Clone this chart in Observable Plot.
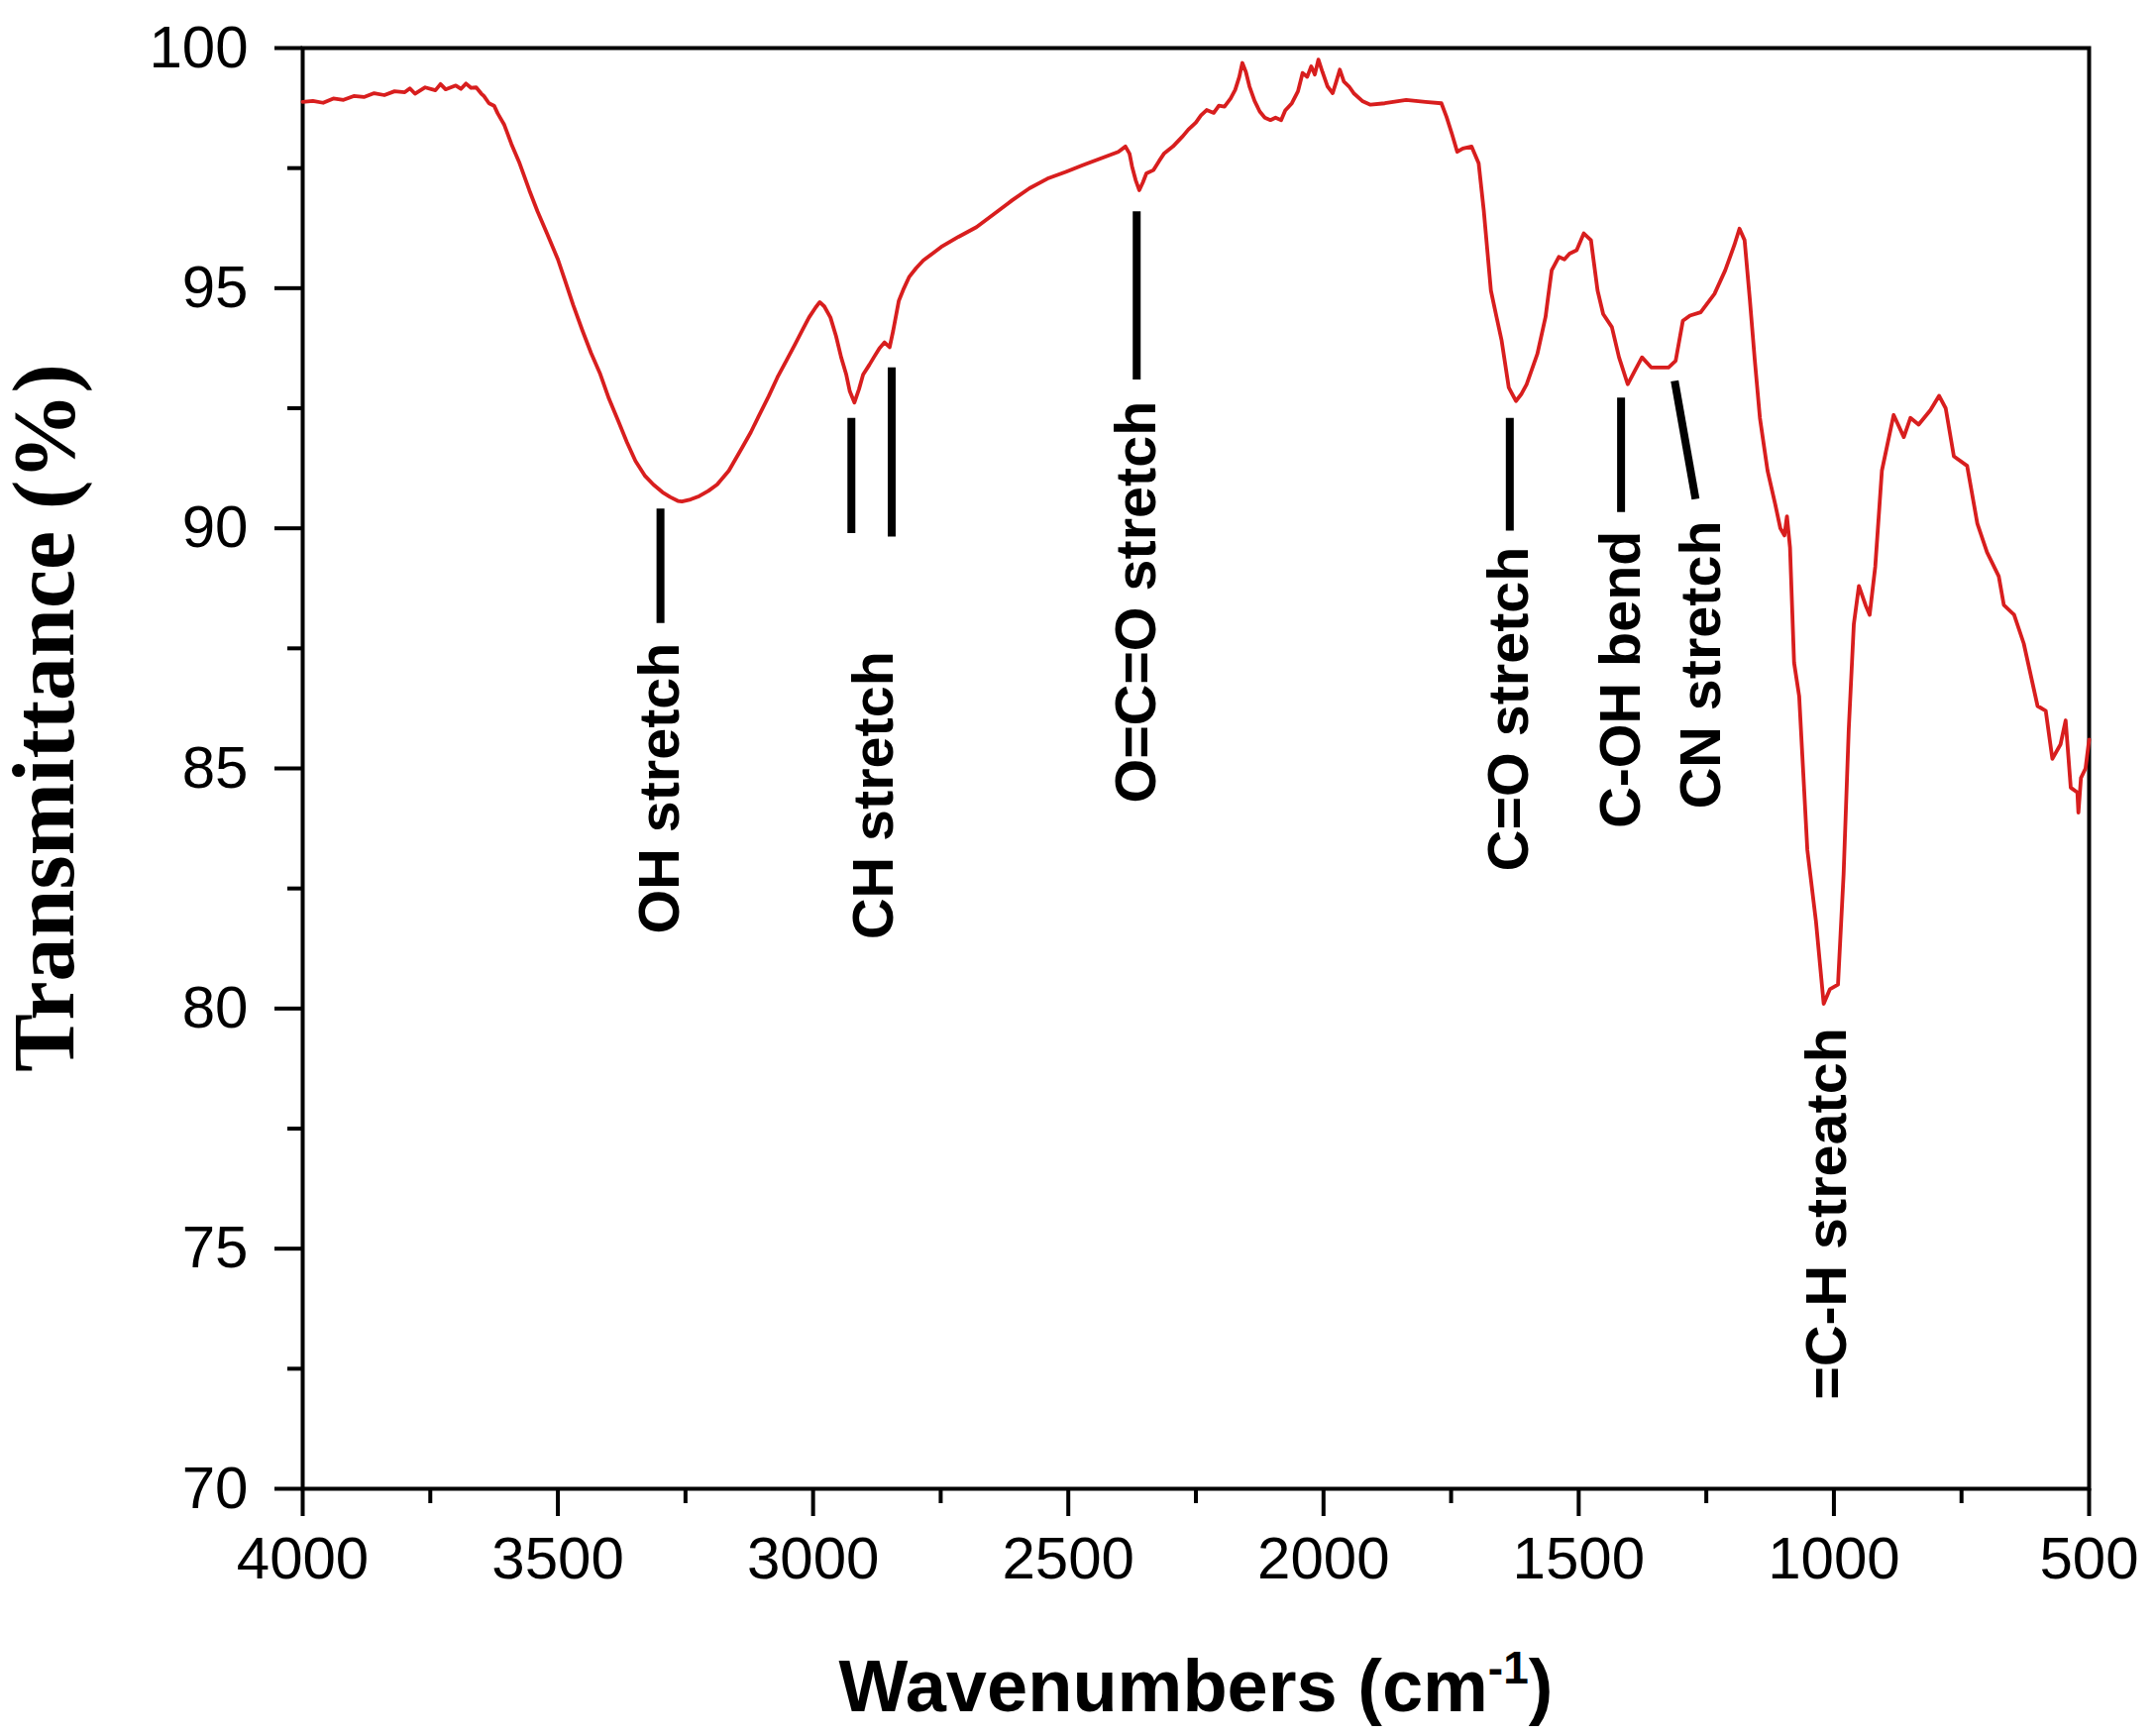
<!DOCTYPE html>
<html>
<head>
<meta charset="utf-8">
<script src="https://cdn.jsdelivr.net/npm/d3@7"></script>
<script src="https://cdn.jsdelivr.net/npm/@observablehq/plot@0.6"></script>
<style>
html, body { margin: 0; padding: 0; background: #fff; }
#chart { width: 2175px; height: 1752px; }
</style>
</head>
<body>
<div id="chart"></div>
<script>
// FTIR spectrum values
const wavenumbers = [
  4000, 3980, 3960, 3940, 3920, 3900, 3880, 3860, 3840, 3820, 3800, 3790, 3780, 3760, 3740, 3730, 3720, 3700, 3690, 3680,
  3670, 3660, 3650, 3645, 3635, 3625, 3618, 3605, 3591, 3575, 3556, 3540, 3521, 3500, 3486, 3470, 3452, 3435, 3417, 3400,
  3382, 3365, 3348, 3330, 3313, 3295, 3280, 3265, 3257, 3240, 3223, 3205, 3188, 3165, 3139, 3122, 3105, 3087, 3070, 3052,
  3035, 3020, 3008, 2995, 2987, 2978, 2966, 2955, 2945, 2935, 2928, 2919, 2910, 2902, 2890, 2881, 2870, 2860, 2850, 2843,
  2832, 2822, 2812, 2798, 2784, 2765, 2749, 2715, 2680, 2645, 2610, 2576, 2541, 2505, 2472, 2437, 2402, 2388, 2380, 2375,
  2368, 2361, 2354, 2347, 2333, 2322, 2312, 2295, 2277, 2265, 2250, 2240, 2229, 2215, 2205, 2194, 2182, 2173, 2165, 2159,
  2152, 2145, 2135, 2125, 2115, 2104, 2094, 2083, 2075, 2062, 2050, 2041, 2032, 2024, 2017, 2010, 2002, 1992, 1982, 1975,
  1968, 1960, 1950, 1940, 1923, 1908, 1880, 1838, 1800, 1769, 1759, 1748, 1738, 1727, 1710, 1696, 1686, 1672, 1661, 1651,
  1637, 1623, 1612, 1602, 1581, 1565, 1560, 1553, 1539, 1528, 1518, 1504, 1490, 1476, 1463, 1452, 1435, 1421, 1404, 1390,
  1376, 1358, 1324, 1310, 1296, 1282, 1261, 1234, 1213, 1195, 1185, 1175, 1165, 1155, 1145, 1130, 1115, 1105, 1097, 1092,
  1086, 1078, 1068, 1052, 1035, 1020, 1008, 992, 981, 971, 961, 951, 938, 930, 919, 906, 883, 863, 850, 834,
  811, 794, 781, 765, 739, 719, 700, 677, 667, 647, 628, 601, 585, 572, 556, 546, 536, 523, 521, 516,
  507, 500
];
const transmittance = [
  98.88, 98.90, 98.86, 98.95, 98.92, 99.00, 98.98, 99.06, 99.02, 99.10, 99.08, 99.16, 99.05, 99.18, 99.12, 99.25, 99.14, 99.22, 99.15, 99.26,
  99.17, 99.18, 99.05, 99.00, 98.85, 98.80, 98.64, 98.40, 98.00, 97.60, 97.04, 96.60, 96.13, 95.60, 95.16, 94.65, 94.12, 93.65, 93.21, 92.70,
  92.24, 91.80, 91.40, 91.10, 90.91, 90.75, 90.65, 90.57, 90.56, 90.60, 90.67, 90.78, 90.91, 91.20, 91.68, 92.00, 92.37, 92.75, 93.14, 93.50,
  93.84, 94.15, 94.39, 94.60, 94.71, 94.62, 94.39, 94.00, 93.56, 93.20, 92.85, 92.62, 92.90, 93.20, 93.40, 93.56, 93.75, 93.87, 93.77, 94.12,
  94.74, 95.00, 95.23, 95.42, 95.58, 95.73, 95.86, 96.07, 96.27, 96.55, 96.83, 97.08, 97.28, 97.42, 97.56, 97.70, 97.84, 97.95, 97.80, 97.53,
  97.25, 97.04, 97.20, 97.39, 97.46, 97.65, 97.81, 97.95, 98.15, 98.30, 98.45, 98.60, 98.71, 98.65, 98.80, 98.78, 98.95, 99.13, 99.40, 99.69,
  99.50, 99.20, 98.90, 98.68, 98.55, 98.50, 98.55, 98.50, 98.70, 98.85, 99.10, 99.48, 99.40, 99.62, 99.45, 99.76, 99.50, 99.20, 99.06, 99.30,
  99.55, 99.30, 99.20, 99.05, 98.89, 98.82, 98.85, 98.92, 98.88, 98.85, 98.57, 98.20, 97.84, 97.91, 97.95, 97.60, 96.62, 94.95, 94.40, 93.91,
  92.93, 92.65, 92.80, 93.00, 93.63, 94.40, 94.81, 95.37, 95.65, 95.60, 95.72, 95.79, 96.14, 96.00, 94.95, 94.46, 94.19, 93.56, 93.00, 93.28,
  93.56, 93.35, 93.35, 93.49, 94.32, 94.43, 94.50, 94.88, 95.37, 95.90, 96.24, 96.00, 94.80, 93.50, 92.30, 91.20, 90.50, 90.00, 89.85, 90.25,
  89.60, 87.20, 86.50, 83.30, 81.80, 80.10, 80.40, 80.50, 82.80, 85.80, 88.00, 88.80, 88.40, 88.20, 89.20, 91.20, 92.36, 91.90, 92.30, 92.16,
  92.46, 92.76, 92.50, 91.50, 91.30, 90.10, 89.50, 89.00, 88.40, 88.20, 87.60, 86.30, 86.20, 85.20, 85.50, 86.00, 84.60, 84.50, 84.08, 84.80,
  85.00, 85.60
];

// Axis ticks
const xTicks = [4000, 3500, 3000, 2500, 2000, 1500, 1000, 500];
const xMinorTicks = [3750, 3250, 2750, 2250, 1750, 1250, 750];
const yTicks = [70, 75, 80, 85, 90, 95, 100];
const yMinorTicks = [72.5, 77.5, 82.5, 87.5, 92.5, 97.5];

// Peak marker lines (wavenumber, transmittance of each end)
const markerWn1 = [3299, 2925, 2846, 2366, 1635, 1417, 1312];
const markerT1 = [90.41, 92.3, 93.35, 96.6, 92.3, 92.72, 93.07];
const markerWn2 = [3299, 2925, 2846, 2366, 1635, 1417, 1271];
const markerT2 = [88.03, 89.9, 89.83, 93.1, 89.95, 90.34, 90.61];

// Peak labels (rotated, read bottom to top; top end position)
const labelText = ["OH stretch", "CH stretch", "O=C=O stretch", "C=O stretch", "C-OH bend", "CN stretch", "=C-H streatch"];
const labelWn = [3299, 2880, 2366, 1635, 1417, 1258, 1012];
const labelTop = [87.62, 87.44, 92.65, 89.62, 89.95, 90.16, 79.6];

const xTitleMain = "Wavenumbers (cm";
const xTitleSup = "-1";
const xTitleEnd = ")";
const yTitle = "Transmittance (%)";

const spectrum = wavenumbers.map((w, i) => ({w, t: transmittance[i]}));
const markers = markerWn1.map((w, i) => ({x1: w, y1: markerT1[i], x2: markerWn2[i], y2: markerT2[i]}));
const labels = labelText.map((s, i) => ({s, w: labelWn[i], t: labelTop[i]}));
const xTitle = xTitleMain + xTitleSup + xTitleEnd;

const sans = "'Liberation Sans', Arial, Helvetica, sans-serif";
const serif = "'Liberation Serif', 'Times New Roman', serif";

const chart = Plot.plot({
  width: 2175,
  height: 1752,
  marginTop: 48,
  marginRight: 67,
  marginBottom: 250,
  marginLeft: 305,
  style: {background: "white", color: "black", fontFamily: sans, overflow: "visible"},
  x: {domain: [4000, 500]},
  y: {domain: [70, 100]},
  marks: [
    Plot.axisX(xMinorTicks, {anchor: "bottom", tickSize: 15, strokeWidth: 4, tickFormat: () => "", label: null}),
    Plot.axisX(xTicks, {anchor: "bottom", tickSize: 28, strokeWidth: 4, tickPadding: 20, fontSize: 60, tickFormat: d => String(d), label: null}),
    Plot.axisY(yMinorTicks, {anchor: "left", tickSize: 15, strokeWidth: 4, tickFormat: () => "", label: null}),
    Plot.axisY(yTicks, {anchor: "left", tickSize: 28, strokeWidth: 4, tickPadding: 27, fontSize: 60, tickFormat: d => String(d), label: null}),
    Plot.frame({stroke: "black", strokeWidth: 4}),
    Plot.line(spectrum, {x: "w", y: "t", stroke: "#d81e1e", strokeWidth: 3.8, strokeLinejoin: "round"}),
    Plot.link(markers, {x1: "x1", y1: "y1", x2: "x2", y2: "y2", stroke: "black", strokeWidth: 8}),
    Plot.text(labels, {x: "w", y: "t", text: "s", rotate: -90, textAnchor: "end", lineAnchor: "middle",
      fontSize: 57.5, fontWeight: "bold", fontFamily: sans, fill: "black"}),
    Plot.text([yTitle], {text: d => d, frameAnchor: "left", textAnchor: "middle", dx: -260, dy: -51, rotate: -90, lineAnchor: "middle",
      fontSize: 88, fontWeight: "bold", fontFamily: serif, fill: "black"}),
    Plot.text([xTitle], {text: d => d, frameAnchor: "bottom", textAnchor: "middle", dy: 201, lineAnchor: "middle",
      fontSize: 74, fontWeight: "bold", fontFamily: sans, fill: "black"})
  ]
});
document.getElementById("chart").appendChild(chart);

// Render the "-1" of the x title as a superscript
chart.querySelectorAll("text").forEach(el => {
  if (el.textContent === xTitle) {
    el.textContent = "";
    const ns = "http://www.w3.org/2000/svg";
    const a = document.createElementNS(ns, "tspan");
    a.textContent = xTitleMain;
    const b = document.createElementNS(ns, "tspan");
    b.textContent = xTitleSup;
    b.setAttribute("font-size", "46");
    b.setAttribute("dy", "-28");
    const c = document.createElementNS(ns, "tspan");
    c.textContent = xTitleEnd;
    c.setAttribute("dy", "28");
    el.append(a, b, c);
  }
});
</script>
</body>
</html>
